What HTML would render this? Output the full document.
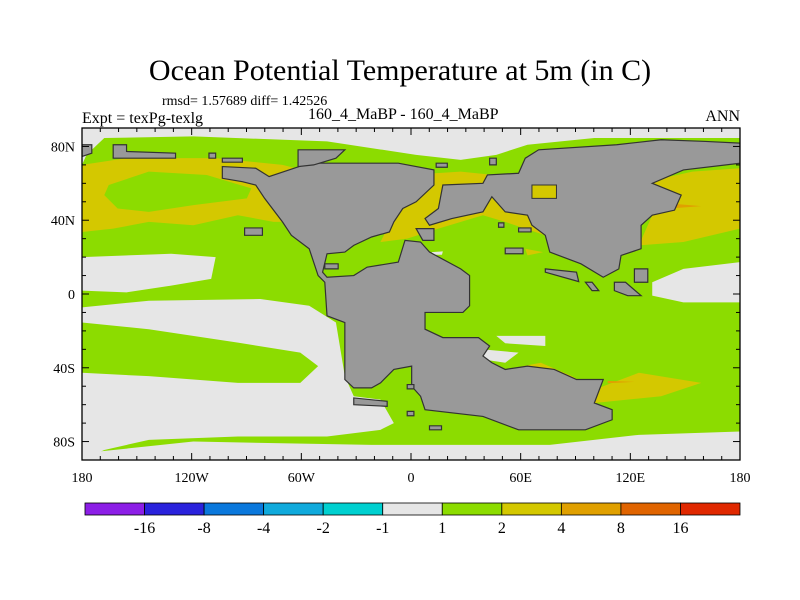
<!DOCTYPE html>
<html><head><meta charset="utf-8"><style>
body{margin:0;background:#fff;}
#wrap{position:relative;width:800px;height:600px;font-family:"Liberation Serif",serif;color:#000;overflow:hidden;}
.t{position:absolute;white-space:nowrap;}
</style></head><body>
<div id="wrap">
<div class="t" style="left:0;width:800px;text-align:center;top:54px;font-size:30px;">Ocean Potential Temperature at 5m (in C)</div>
<div class="t" style="left:162px;top:94px;font-size:14px;">rmsd= 1.57689 diff= 1.42526</div>
<div class="t" style="left:82px;top:110px;font-size:16px;">Expt = texPg-texlg</div>
<div class="t" style="left:308px;top:106px;font-size:16px;">160_4_MaBP - 160_4_MaBP</div>
<div class="t" style="left:700px;width:40px;text-align:right;top:108px;font-size:16px;">ANN</div>
<svg id="map" style="position:absolute;left:82px;top:128px;" width="658" height="332" viewBox="50 120 1477 990" preserveAspectRatio="none">
<rect x="50" y="120" width="1477" height="990" fill="#8cdc00"/>
<g fill="#e6e6e6">
<polygon points="50,120 1527,120 1527,150 1200,150 1050,170 980,200 900,215 800,200 600,160 300,145 100,150 60,200 50,230"/>
<polygon points="50,505 250,495 350,505 340,570 250,590 150,610 50,605"/>
<polygon points="1330,580 1400,540 1527,520 1527,640 1400,640 1330,620"/>
<polygon points="50,655 200,635 450,630 560,650 620,700 640,860 660,920 720,930 750,1000 720,1020 600,1040 400,1040 200,1050 100,1080 50,1110"/>
<polygon points="50,1090 300,1055 700,1065 1100,1065 1300,1035 1527,1025 1527,1110 50,1110"/>
<polygon points="980,740 1090,740 1090,770 1000,762"/>
<polygon points="950,780 1030,790 1000,820 950,810"/>
<polygon points="835,490 860,488 858,498 838,498"/>
</g>
<polygon fill="#8cdc00" points="50,700 200,720 400,760 540,790 580,830 540,880 400,880 200,860 50,850"/>
<g fill="#d4c800">
<polygon points="50,230 150,210 350,210 500,230 560,250 600,260 620,400 540,400 480,400 400,380 300,410 200,400 120,420 50,430"/>
<polygon points="780,260 900,250 1050,270 1060,330 1100,400 1090,440 1000,400 950,380 850,420 780,450 720,460 750,380 790,300"/>
<polygon points="1320,280 1420,250 1527,240 1527,420 1400,460 1300,470 1330,380 1380,350 1390,320"/>
<polygon points="1000,840 1080,820 1150,860 1200,900 1300,850 1440,880 1350,920 1200,940 1170,910 1050,850"/>
<polygon points="1045,480 1085,490 1050,500"/>
</g>
<polygon fill="#8cdc00" points="110,290 200,250 330,260 430,300 420,330 300,350 200,370 130,360 100,320"/>
<g fill="#e0a000">
<polygon points="1370,345 1440,353 1370,360"/>
<polygon points="1230,874 1290,877 1230,881"/>
</g>
<g fill="#999" stroke="#333" stroke-width="1.2">
<polygon vector-effect="non-scaling-stroke" points="365,235 440,240 470,265 560,225 760,225 840,245 840,290 800,340 770,360 750,400 740,430 700,445 660,470 640,490 600,495 590,550 600,565 660,560 690,535 760,520 775,455 810,460 830,490 900,540 920,560 920,650 905,670 820,670 820,720 860,745 940,745 965,770 950,800 970,820 1000,840 1050,830 1110,840 1160,870 1220,870 1200,940 1240,960 1240,990 1180,1020 1030,1020 950,980 820,960 810,920 790,890 790,830 750,840 720,880 700,895 660,895 640,870 640,700 600,680 595,580 580,560 570,520 560,480 520,440 500,400 460,330 440,290 410,280 365,270"/>
<polygon vector-effect="non-scaling-stroke" points="860,290 950,285 960,260 1030,255 1045,210 1075,185 1250,170 1350,155 1450,160 1527,165 1527,225 1400,245 1330,285 1395,320 1380,365 1330,380 1305,410 1305,480 1260,500 1255,540 1220,565 1170,525 1100,490 1090,440 1060,410 1050,380 1000,370 970,325 950,370 880,390 830,410 820,390 850,360"/>
<polygon vector-effect="non-scaling-stroke" points="120,170 150,170 150,190 260,195 260,210 120,210"/>
<polygon vector-effect="non-scaling-stroke" points="535,185 640,185 620,210 570,230 535,235"/>
<polygon vector-effect="non-scaling-stroke" points="965,210 980,210 980,230 965,230"/>
<polygon vector-effect="non-scaling-stroke" points="50,170 72,170 72,195 50,205"/>
<polygon vector-effect="non-scaling-stroke" points="335,195 350,195 350,210 335,210"/>
<polygon vector-effect="non-scaling-stroke" points="365,210 410,210 410,222 365,222"/>
<polygon vector-effect="non-scaling-stroke" points="845,225 870,225 870,237 845,237"/>
<polygon vector-effect="non-scaling-stroke" points="415,418 455,418 455,440 415,440"/>
<polygon vector-effect="non-scaling-stroke" points="985,403 997,403 997,416 985,416"/>
<polygon vector-effect="non-scaling-stroke" points="1030,418 1058,418 1058,430 1030,430"/>
<polygon vector-effect="non-scaling-stroke" points="1000,478 1040,478 1040,495 1000,495"/>
<polygon vector-effect="non-scaling-stroke" points="1090,540 1160,550 1165,578 1090,550"/>
<polygon vector-effect="non-scaling-stroke" points="1290,540 1320,540 1320,580 1290,580"/>
<polygon vector-effect="non-scaling-stroke" points="1245,580 1270,580 1305,620 1275,620 1245,605"/>
<polygon vector-effect="non-scaling-stroke" points="1180,580 1195,580 1210,605 1195,605"/>
<polygon vector-effect="non-scaling-stroke" points="595,525 625,525 625,540 595,540"/>
<polygon vector-effect="non-scaling-stroke" points="660,925 735,935 735,950 660,945"/>
<polygon vector-effect="non-scaling-stroke" points="780,885 795,885 795,898 780,898"/>
<polygon vector-effect="non-scaling-stroke" points="780,965 795,965 795,978 780,978"/>
<polygon vector-effect="non-scaling-stroke" points="830,1008 857,1008 857,1020 830,1020"/>
<polygon vector-effect="non-scaling-stroke" points="800,420 840,420 840,455 815,455"/>
</g>
<polygon fill="#d4c800" stroke="#333" vector-effect="non-scaling-stroke" points="1060,290 1115,290 1115,330 1060,330"/>
</svg>
<svg id="axes" style="position:absolute;left:0;top:0;" width="800" height="600"></svg>
</div>
<script>
const lonLabels=["180","120W","60W","0","60E","120E","180"];
const latLabels=["80N","40N","0","40S","80S"];
const latValues=[80,40,0,-40,-80];
const levelLabels=["-16","-8","-4","-2","-1","1","2","4","8","16"];
const levelColors=["#8c1ee6","#2a22dc","#0a78dc","#10aadc","#00d0d0","#e6e6e6","#8cdc00","#d4c800","#e0a000","#e06400","#e02800"];
const L=82,R=740,T=128,B=460;
const xs=lon=>L+(lon+180)/360*(R-L);
const ys=lat=>T+(90-lat)/180*(B-T);
const svg=document.getElementById('axes');
const NS='http://www.w3.org/2000/svg';
function mk(tag,attrs){const e=document.createElementNS(NS,tag);for(const k in attrs)e.setAttribute(k,attrs[k]);svg.appendChild(e);return e;}
let fr=mk('rect',{x:L,y:T,width:R-L,height:B-T,fill:'none',stroke:'#000','stroke-width':1.3});


for(let lon=-180;lon<=180;lon+=10){const x=xs(lon);const len=lon%60===0?7:4;
mk('line',{x1:x,y1:T,x2:x,y2:T+len,stroke:'#000'});mk('line',{x1:x,y1:B,x2:x,y2:B-len,stroke:'#000'});}
for(let lat=-90;lat<=90;lat+=10){const y=ys(lat);const len=lat%40===0?7:4;
mk('line',{x1:L,y1:y,x2:L+len,y2:y,stroke:'#000'});mk('line',{x1:R,y1:y,x2:R-len,y2:y,stroke:'#000'});}
lonLabels.forEach((s,i)=>{const t=mk('text',{x:xs(-180+60*i),y:482,'text-anchor':'middle','font-size':14,'font-family':'Liberation Serif, serif'});t.textContent=s;

});
latLabels.forEach((s,i)=>{const t=mk('text',{x:75,y:ys(latValues[i])+5,'text-anchor':'end','font-size':14,'font-family':'Liberation Serif, serif'});t.textContent=s;

});
const cbL=85,cbR=740,cbT=503,cbH=12,w=(cbR-cbL)/levelColors.length;
levelColors.forEach((c,i)=>{const r=mk('rect',{x:cbL+i*w,y:cbT,width:w,height:cbH,fill:c,stroke:'#000','stroke-width':0.8});

});
levelLabels.forEach((s,i)=>{const t=mk('text',{x:cbL+(i+1)*w,y:533,'text-anchor':'middle','font-size':16,'font-family':'Liberation Serif, serif'});t.textContent=s;

});
</script>
</body></html>
